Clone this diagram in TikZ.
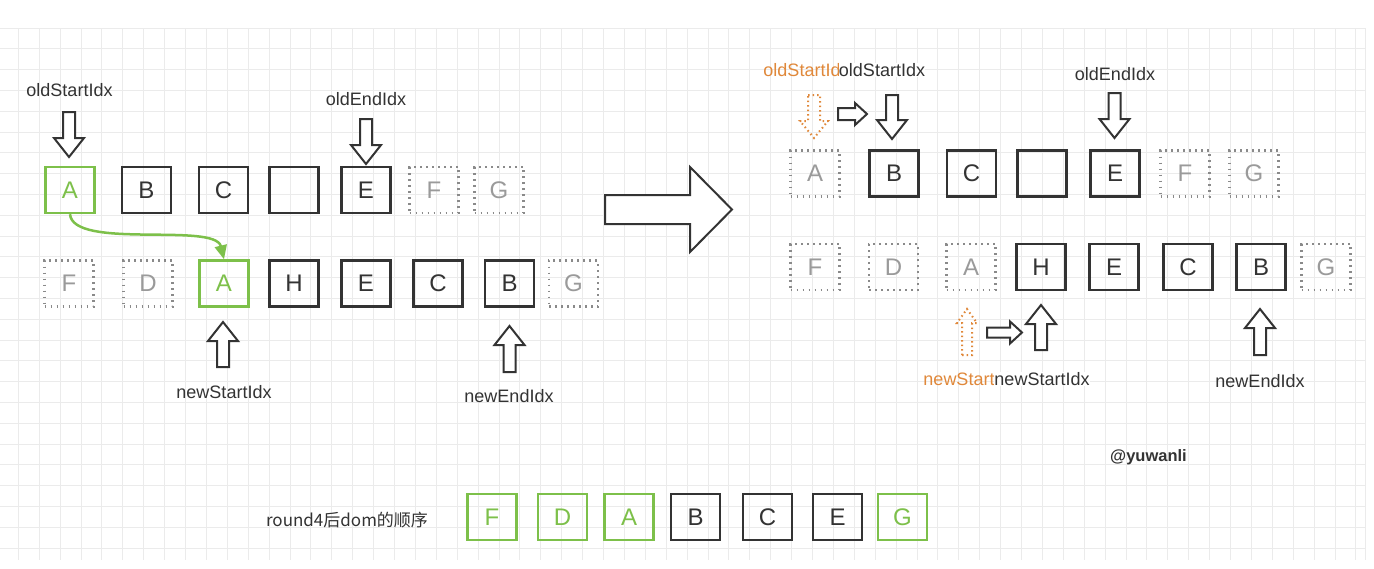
\documentclass[tikz,border=0pt]{standalone}
\usepackage{fontspec}
\setmainfont{Liberation Sans}
\newfontfamily\cjk{Noto Sans CJK SC}
\usetikzlibrary{arrows.meta}
\definecolor{ink}{HTML}{333333}
\definecolor{greenc}{HTML}{7DC04A}
\definecolor{dotc}{HTML}{8A8A8A}
\definecolor{dtxt}{HTML}{9A9A9A}
\definecolor{orng}{HTML}{E0883A}
\definecolor{gridc}{HTML}{EBEBEB}
% down arrow: cx, ytop, ytip, shaft half, head half, head length, style
\newcommand{\myDown}[7]{\draw[#7] ({#1-#4},#2) -- ({#1+#4},#2) -- ({#1+#4},{#3-#6}) -- ({#1+#5},{#3-#6}) -- (#1,#3) -- ({#1-#5},{#3-#6}) -- ({#1-#4},{#3-#6}) -- cycle;}
% up arrow: cx, ytip, ybottom, shaft half, head half, head length, style
\newcommand{\myUp}[7]{\draw[#7] ({#1-#4},#3) -- ({#1+#4},#3) -- ({#1+#4},{#2+#6}) -- ({#1+#5},{#2+#6}) -- (#1,#2) -- ({#1-#5},{#2+#6}) -- ({#1-#4},{#2+#6}) -- cycle;}
% right arrow: x0, xtip, cy, shaft half, head half, head length, style
\newcommand{\myRight}[7]{\draw[#7] (#1,{#3-#4}) -- ({#2-#6},{#3-#4}) -- ({#2-#6},{#3-#5}) -- (#2,#3) -- ({#2-#6},{#3+#5}) -- ({#2-#6},{#3+#4}) -- (#1,{#3+#4}) -- cycle;}
\tikzset{
  box/.style={draw=ink, line width=2.4pt, minimum width=49pt, minimum height=46pt, inner sep=0pt, text=ink, font=\fontsize{24}{28}\selectfont},
  greenbox/.style={box, draw=greenc, text=greenc},
  dbox/.style={box, draw=dotc, text=dtxt, line width=2.2pt, dash pattern=on 1.6pt off 4.4pt},
  lbl/.style={text=ink, font=\fontsize{18}{20}\selectfont, inner sep=0pt},
  olbl/.style={lbl, text=orng},
  harrow/.style={draw=ink, line width=2pt, fill=white, line join=miter},
  oarrow/.style={draw=orng, line width=2pt, dash pattern=on 1.5pt off 3pt},
  gridline/.style={draw=gridc, line width=1pt},
  gline/.style={draw=greenc, line width=2.5pt}
}
\begin{document}
\begin{tikzpicture}[x=1pt,y=-1pt]
\useasboundingbox (0,0) rectangle (1374,568);
\fill[white] (0,0) rectangle (1374,568);
% grid
\foreach \i in {0,...,64} {\draw[gridline] ({18.3+\i*20.9},28) -- ({18.3+\i*20.9},560);}
\draw[gridline] (1365,28) -- (1365,560);
\foreach \j in {0,...,25} {\draw[gridline] (0,{28+\j*20.8}) -- (1365,{28+\j*20.8});}

% ---------- left: old row ----------
\node[greenbox] (oA) at (70,190) {A};
\node[box] (oB) at (146.5,190) {B};
\node[box] (oC) at (223.5,190) {C};
\node[box] (oX) at (294,190) {};
\node[box] (oE) at (366,190) {E};
\node[dbox] (oF) at (434,190) {F};
\node[dbox] (oG) at (499,190) {G};
% ---------- left: new row ----------
\node[dbox] (nF) at (69,283.5) {F};
\node[dbox] (nD) at (148,283.5) {D};
\node[greenbox] (nA) at (224,283.5) {A};
\node[box] (nH) at (294,283.5) {H};
\node[box] (nE) at (366,283.5) {E};
\node[box] (nC) at (438,283.5) {C};
\node[box] (nB) at (509.5,283.5) {B};
\node[dbox] (nG) at (573.5,283.5) {G};
% labels left
\node[lbl] (lOS) at (69.5,90) {oldStartIdx};
\node[lbl] (lOE) at (366,99) {oldEndIdx};
\node[lbl] (lNS) at (224,392) {newStartIdx};
\node[lbl] (lNE) at (509,396) {newEndIdx};
% arrows left
\myDown{69}{112}{157}{6}{15}{19}{harrow}
\myDown{366}{119}{164}{6}{15}{19}{harrow}
\myUp{223}{322}{367}{6}{15}{19}{harrow}
\myUp{509.5}{326}{372}{6}{15}{19}{harrow}
% green move curve
\draw[gline, -{Triangle[length=14pt,width=12pt]}] (oA.south) .. controls (73,250) and (215,222) .. (nA.north);

% big arrow
\draw[harrow] (605,195) -- (690,195) -- (690,167) -- (732,209.5) -- (690,252) -- (690,224) -- (605,224) -- cycle;

% ---------- right: old row ----------
\node[dbox] (rA) at (815,173.5) {A};
\node[box] (rB) at (894,173.5) {B};
\node[box] (rC) at (971.5,173.5) {C};
\node[box] (rX) at (1042,173.5) {};
\node[box] (rE) at (1115,173.5) {E};
\node[dbox] (rF) at (1185,173.5) {F};
\node[dbox] (rG) at (1254,173.5) {G};
% ---------- right: new row ----------
\node[dbox] (sF) at (815,267) {F};
\node[dbox] (sD) at (893.5,267) {D};
\node[dbox] (sA) at (971,267) {A};
\node[box] (sH) at (1041,267) {H};
\node[box] (sE) at (1114,267) {E};
\node[box] (sC) at (1188,267) {C};
\node[box] (sB) at (1261,267) {B};
\node[dbox] (sG) at (1326,267) {G};
% labels right
\node[olbl] (rOSo) at (806.5,70) {oldStartIdx};
\node[lbl, fill=white] (rOS) at (882,70) {oldStartIdx};
\node[lbl] (rOE) at (1115,74) {oldEndIdx};
\node[olbl] (rNSo) at (971,379) {newStartIdx};
\node[lbl, fill=white] (rNS) at (1042,379) {newStartIdx};
\node[lbl] (rNE) at (1260,381.5) {newEndIdx};
% arrows right
\myDown{814}{95}{138}{6}{14}{17}{oarrow}
\myRight{838}{867}{114}{6}{11}{12}{harrow}
\myDown{892}{95}{139}{6}{15}{19}{harrow}
\myDown{1114.5}{93}{138}{6}{15}{19}{harrow}
\myUp{967}{309}{355}{5}{10}{14}{oarrow}
\myRight{987}{1022}{332.5}{5}{11}{12}{harrow}
\myUp{1041}{305}{350}{6}{15}{19}{harrow}
\myUp{1260}{309}{355}{6}{15}{19}{harrow}

% watermark
\node[lbl, font=\fontsize{16.5}{18}\selectfont\bfseries] (wm) at (1148.5,457) {@yuwanli};

% ---------- bottom: final order ----------
\node[lbl, font=\fontsize{17}{20}\selectfont\cjk] (lR) at (347,520) {round4后dom的顺序};
\node[greenbox] (bF) at (492,517) {F};
\node[greenbox] (bD) at (562.5,517) {D};
\node[greenbox] (bA) at (629,517) {A};
\node[box] (bB) at (695.5,517) {B};
\node[box] (bC) at (767.5,517) {C};
\node[box] (bE) at (837.5,517) {E};
\node[greenbox] (bG) at (902.5,517) {G};
\end{tikzpicture}
\end{document}
